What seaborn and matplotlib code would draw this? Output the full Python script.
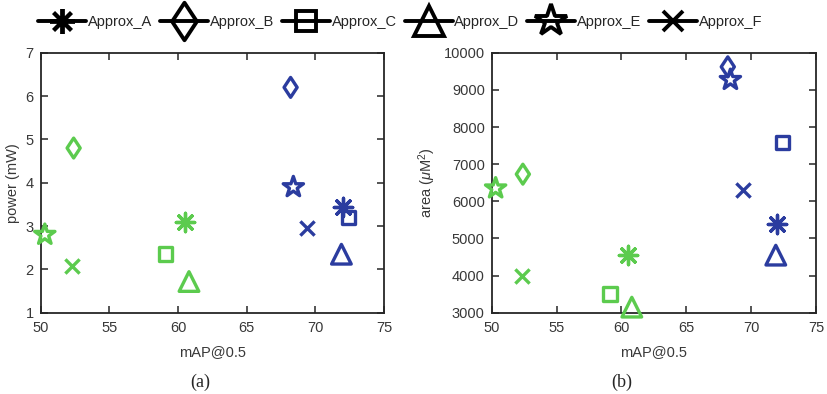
import numpy as np
import pandas as pd
import matplotlib
matplotlib.use("Agg")
import matplotlib.pyplot as plt
from matplotlib.lines import Line2D
from matplotlib.markers import MarkerStyle
from matplotlib.path import Path
import seaborn as sns

# ---- data -------------------------------------------------------------
approx_names = ["Approx_A", "Approx_B", "Approx_C", "Approx_D", "Approx_E", "Approx_F"]

# mAP@0.5 for the two configurations (green = low-cost, blue = high-accuracy)
map_green = [60.5, 52.4, 59.1, 60.8, 50.3, 52.3]
map_blue = [72.0, 68.2, 72.4, 71.9, 68.4, 69.4]

power_green = [3.10, 4.80, 2.35, 1.72, 2.80, 2.08]
power_blue = [3.45, 6.20, 3.20, 2.35, 3.90, 2.95]

area_green = [4550, 6730, 3500, 3150, 6350, 4000]
area_blue = [5380, 9620, 7580, 4550, 9270, 6300]

x_ticks = [50, 55, 60, 65, 70, 75]
power_ticks = [1, 2, 3, 4, 5, 6, 7]
area_ticks = [3000, 4000, 5000, 6000, 7000, 8000, 9000, 10000]

# ---- styling ------------------------------------------------------------
GREEN = "#5CCB4E"
BLUE = "#2B3C9F"
INK = "#262626"
TICK_TXT = "#383838"

# MATLAB-style diamond: a bit wider than matplotlib's thin diamond
diamond = Path([(0, 1), (0.66, 0), (0, -1), (-0.66, 0), (0, 1)],
               [Path.MOVETO, Path.LINETO, Path.LINETO, Path.LINETO, Path.CLOSEPOLY])

markers = {
    "Approx_A": (8, 2, 0),   # eight-spoke asterisk
    "Approx_B": diamond,
    "Approx_C": "s",
    "Approx_D": "^",
    "Approx_E": "*",
    "Approx_F": "x",
}
marker_area = {
    "Approx_A": 175,
    "Approx_B": 205,
    "Approx_C": 95,
    "Approx_D": 200,
    "Approx_E": 235,
    "Approx_F": 105,
}

sns.set_theme(style="white")
plt.rcParams["font.family"] = ["Liberation Sans", "DejaVu Sans"]
plt.rcParams["mathtext.fontset"] = "custom"
plt.rcParams["mathtext.rm"] = "Liberation Sans"
plt.rcParams["mathtext.it"] = "Liberation Sans:italic"

df = pd.DataFrame({
    "approx": approx_names * 2,
    "group": ["green"] * 6 + ["blue"] * 6,
    "map": map_green + map_blue,
    "power": power_green + power_blue,
    "area": area_green + area_blue,
})
colors = {"green": GREEN, "blue": BLUE}

fig = plt.figure(figsize=(8.27, 3.94), dpi=100)
ax_a = fig.add_axes([0.0492, 0.2063, 0.4151, 0.6599])
ax_b = fig.add_axes([0.5946, 0.2063, 0.3921, 0.6599])


def draw_panel(ax, ycol, yticks, ylabel):
    for (name, grp), sub in df.groupby(["approx", "group"], sort=False):
        m = markers[name]
        col = colors[grp]
        # line-art markers take their stroke colour from the face colour
        face = col if not MarkerStyle(m).is_filled() else "none"
        sns.scatterplot(
            data=sub, x="map", y=ycol, ax=ax,
            marker=m, s=marker_area[name],
            color=col, facecolor=face, edgecolor=col,
            linewidth=2.4, legend=False, clip_on=False, zorder=3,
        )
    ax.set_xlim(50, 75)
    ax.set_ylim(yticks[0], yticks[-1])
    ax.set_xticks(x_ticks)
    ax.set_yticks(yticks)
    ax.set_xlabel("mAP@0.5", fontsize=10.5, color=TICK_TXT, labelpad=7)
    ax.set_ylabel(ylabel, fontsize=10.5, color=TICK_TXT, labelpad=4)
    ax.tick_params(direction="in", length=5, width=1.1, color=INK,
                   labelcolor=TICK_TXT, labelsize=10.5,
                   top=True, right=True, bottom=True, left=True)
    ax.tick_params(axis="x", pad=6)
    ax.tick_params(axis="y", pad=5)
    for sp in ax.spines.values():
        sp.set_color(INK)
        sp.set_linewidth(1.3)
        sp.set_visible(True)
    ax.grid(False)


draw_panel(ax_a, "power", power_ticks, "power (mW)")
draw_panel(ax_b, "area", area_ticks, r"area ($\mathit{\mu}$M$^2$)")

fig.text(0.242, 0.030, "(a)", fontsize=13, family="Liberation Serif",
         ha="center", va="center")
fig.text(0.752, 0.030, "(b)", fontsize=13, family="Liberation Serif",
         ha="center", va="center")

# ---- shared legend ----------------------------------------------------
legend_ms = {
    "Approx_A": 18, "Approx_B": 27, "Approx_C": 15,
    "Approx_D": 21, "Approx_E": 24, "Approx_F": 15,
}
handles = [
    Line2D([0], [0], color="black", linewidth=2.8, marker=markers[n],
           markersize=legend_ms[n],
           markerfacecolor="black" if not MarkerStyle(markers[n]).is_filled() else "none",
           markeredgecolor="black", markeredgewidth=2.8)
    for n in approx_names
]
fig.legend(handles, approx_names, loc="center", bbox_to_anchor=(0.484, 0.944),
           ncol=6, frameon=False, fontsize=10.5, handlelength=3.3,
           handletextpad=0.1, columnspacing=0.55, borderpad=0, borderaxespad=0)

fig.savefig("out.png", dpi=100)
